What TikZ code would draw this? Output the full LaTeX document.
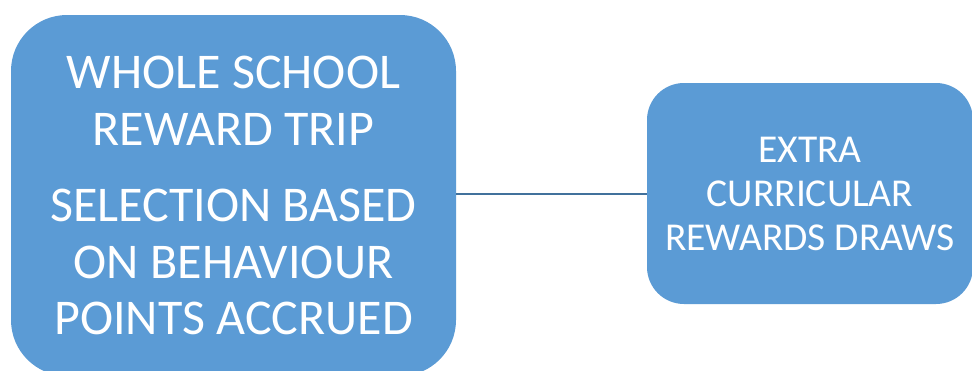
\documentclass[tikz,border=0pt]{standalone}
\usepackage{fontspec}
\setmainfont{Carlito}
\definecolor{boxblue}{HTML}{5B9BD5}
\definecolor{lineblue}{HTML}{41719C}
\tikzset{
  bluebox/.style={fill=boxblue, draw=none, text=white, align=center, inner sep=0pt},
  conn/.style={draw=lineblue, line width=2pt}
}
\begin{document}
\begin{tikzpicture}[x=1pt,y=-1pt]
\useasboundingbox (0,0) rectangle (972,370);
\clip (0,0) rectangle (972,370);
\fill[white] (0,0) rectangle (972,370);
\node[bluebox, minimum width=445pt, minimum height=361pt, rounded corners=56pt,
      font=\fontsize{50}{56.5}\selectfont] (whole) at (233.5,195.5)
  {WHOLE SCHOOL\\REWARD TRIP\\[20pt]SELECTION BASED\\ON BEHAVIOUR\\POINTS ACCRUED};
\node[bluebox, minimum width=326pt, minimum height=221pt, rounded corners=37pt,
      font=\fontsize{39.5}{44}\selectfont] (extra) at (810,193.5)
  {EXTRA\\CURRICULAR\\REWARDS DRAWS};
\draw[conn] (whole.east |- extra.west) -- (extra.west);
\end{tikzpicture}
\end{document}
